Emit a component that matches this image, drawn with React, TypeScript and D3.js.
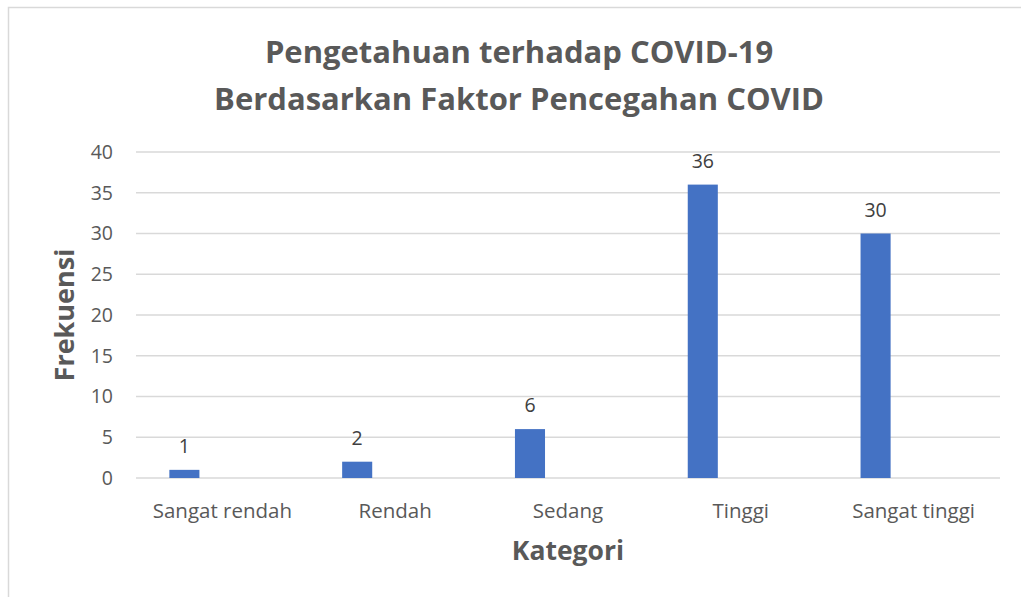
import { useEffect, useRef } from 'react';
import * as d3 from 'd3';

const categories = ['Sangat rendah', 'Rendah', 'Sedang', 'Tinggi', 'Sangat tinggi'];
const frekuensi = [1, 2, 6, 36, 30];
const yTicks = [0, 5, 10, 15, 20, 25, 30, 35, 40];
const titleLines = ['Pengetahuan terhadap COVID-19', 'Berdasarkan Faktor Pencegahan COVID'];

export default function App() {
  const svgRef = useRef<SVGSVGElement | null>(null);

  useEffect(() => {
    const svg = svgRef.current;
    if (!svg) return;

    const width = 1021;
    const height = 597;
    const margin = { top: 152, right: 21, bottom: 119, left: 136 };
    const font = '"Open Sans", sans-serif';

    const root = d3.select(svg);
    root.attr('viewBox', `0 0 ${width} ${height}`);
    root.selectAll('*').remove();

    // chart frame
    root
      .append('rect')
      .attr('x', 8.5)
      .attr('y', 7.5)
      .attr('width', width + 10)
      .attr('height', height + 10)
      .attr('fill', '#ffffff')
      .attr('stroke', '#d9d9d9')
      .attr('stroke-width', 1.5);

    const x = d3
      .scaleBand<string>()
      .domain(categories)
      .range([margin.left, width - margin.right]);

    const y = d3
      .scaleLinear()
      .domain([0, 40])
      .range([height - margin.bottom, margin.top]);

    // gridlines
    root
      .append('g')
      .selectAll('line')
      .data(yTicks)
      .join('line')
      .attr('x1', margin.left)
      .attr('x2', width - margin.right)
      .attr('y1', (d) => y(d))
      .attr('y2', (d) => y(d))
      .attr('stroke', '#d9d9d9')
      .attr('stroke-width', 1.5);

    // y tick labels
    root
      .append('g')
      .selectAll('text')
      .data(yTicks)
      .join('text')
      .attr('x', 113)
      .attr('y', (d) => y(d))
      .attr('dy', '0.35em')
      .attr('text-anchor', 'end')
      .attr('font-family', font)
      .attr('font-size', 19.5)
      .attr('fill', '#595959')
      .text((d) => d);

    // bars (second, empty series slot sits to the right in each category)
    const bw = x.bandwidth();
    const barOffset = bw * 0.193;
    const barW = bw * 0.174;

    root
      .append('g')
      .selectAll('rect')
      .data(frekuensi)
      .join('rect')
      .attr('x', (_, i) => x(categories[i])! + barOffset)
      .attr('y', (d) => y(d))
      .attr('width', barW)
      .attr('height', (d) => y(0) - y(d))
      .attr('fill', '#4472c4');

    // data labels
    root
      .append('g')
      .selectAll('text')
      .data(frekuensi)
      .join('text')
      .attr('x', (_, i) => x(categories[i])! + barOffset + barW / 2)
      .attr('y', (d) => y(d) - 17)
      .attr('text-anchor', 'middle')
      .attr('font-family', font)
      .attr('font-size', 19.5)
      .attr('fill', '#404040')
      .text((d) => d);

    // category labels
    root
      .append('g')
      .selectAll('text')
      .data(categories)
      .join('text')
      .attr('x', (d) => x(d)! + bw / 2)
      .attr('y', 518)
      .attr('text-anchor', 'middle')
      .attr('font-family', font)
      .attr('font-size', 20.5)
      .attr('fill', '#595959')
      .text((d) => d);

    // title
    root
      .append('g')
      .selectAll('text')
      .data(titleLines)
      .join('text')
      .attr('x', 519)
      .attr('y', (_, i) => 63 + i * 47)
      .attr('text-anchor', 'middle')
      .attr('font-family', font)
      .attr('font-weight', 'bold')
      .attr('font-size', 31)
      .attr('fill', '#595959')
      .text((d) => d);

    // axis titles
    root
      .append('text')
      .attr('transform', `translate(74,${(margin.top + height - margin.bottom) / 2}) rotate(-90)`)
      .attr('text-anchor', 'middle')
      .attr('font-family', font)
      .attr('font-weight', 'bold')
      .attr('font-size', 27)
      .attr('fill', '#595959')
      .text('Frekuensi');

    root
      .append('text')
      .attr('x', 568)
      .attr('y', 560)
      .attr('text-anchor', 'middle')
      .attr('font-family', font)
      .attr('font-weight', 'bold')
      .attr('font-size', 26.5)
      .attr('fill', '#595959')
      .text('Kategori');
  }, []);

  return (
    <svg
      ref={svgRef}
      width={1021}
      height={597}
      style={{ position: 'absolute', left: 0, top: 0, display: 'block' }}
    />
  );
}
